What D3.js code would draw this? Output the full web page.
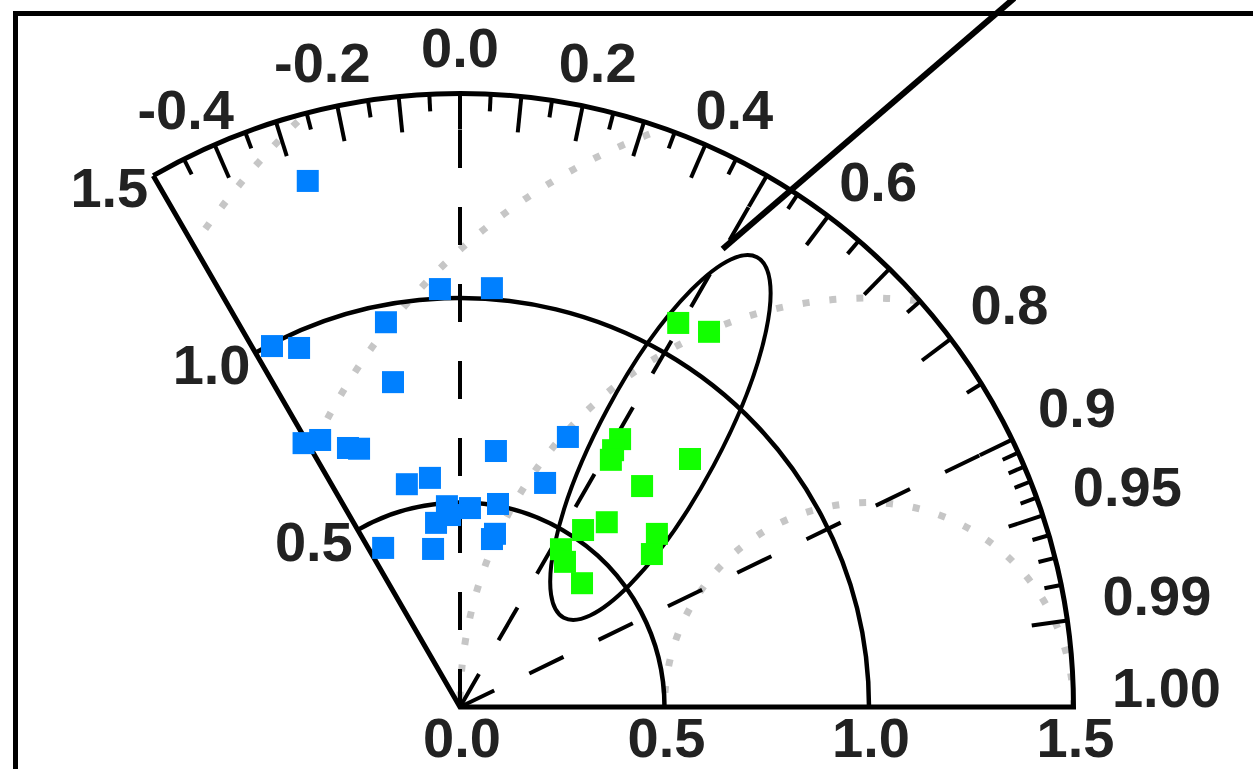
<!DOCTYPE html>
<html>
<head>
<meta charset="utf-8">
<script src="https://cdn.jsdelivr.net/npm/d3@7/dist/d3.min.js"></script>
<style>
    html, body { margin: 0; padding: 0; background: #fff; }
    svg { display: block; }
</style>
</head>
<body>
<div id="chart"></div>
<script>
// Model statistics: normalised standard deviation and correlation
const blueStd  = [1.339, 1.023, 1.027, 0.958, 0.995, 0.962, 0.811, 0.750, 0.737, 0.690, 0.678, 0.632, 0.711,
                  0.560, 0.565, 0.586, 0.492, 0.487, 0.505, 0.454, 0.470, 0.432, 0.418, 0.432, 0.392];
const blueCorr = [-0.278, -0.048, 0.076, -0.189, -0.462, -0.409, -0.202, -0.510, -0.464, -0.397, -0.364, 0.139, 0.371,
                  -0.232, -0.130, 0.355, -0.065, 0.050, 0.184, -0.129, -0.052, 0.198, 0.187, -0.435, -0.168];
const greenStd  = [1.080, 1.101, 0.763, 0.731, 0.708, 0.827, 0.700, 0.577, 0.527, 0.641, 0.600, 0.458, 0.438, 0.425];
const greenCorr = [0.494, 0.553, 0.513, 0.512, 0.521, 0.680, 0.636, 0.622, 0.571, 0.751, 0.782, 0.539, 0.586, 0.702];

// Axes
const stdArcs = [0.5, 1.0];
const stdMax = 1.5;
const corrMin = -0.5;
const stdLabels = ['0.0', '0.5', '1.0', '1.5'];
const leftStdLabels = ['0.5', '1.0', '1.5'];
const corrLabels = ['-0.4', '-0.2', '0.0', '0.2', '0.4', '0.6', '0.8', '0.9', '0.95', '0.99', '1.00'];
const corrMajorTicks = [-0.4, -0.3, -0.2, -0.1, 0.0, 0.1, 0.2, 0.3, 0.4, 0.5, 0.6, 0.7, 0.8, 0.9, 0.95, 0.99];
const corrMinorTicks = [-0.45, -0.35, -0.25, -0.15, -0.05, 0.05, 0.15, 0.25, 0.35, 0.45, 0.55, 0.65, 0.75, 0.85,
                        0.91, 0.92, 0.93, 0.94, 0.96, 0.97, 0.98];
const dashedCorr = [0.0, 0.5, 0.9];

// Centred RMS difference contours around the reference
const refStd = 1.0;
const rmsLevels = [0.5, 1.0, 1.5, 2.0];

// Spread ellipse of the green group and the pointer line (std units)
const ellipseCenter = [0.490, 0.659];
const ellipseAxes = [0.50, 0.147];
const ellipseAngle = 61.8;
const pointerLine = [[0.642, 1.120], [1.355, 1.733]];

const width = 1253;
const height = 769;
const font = '"Liberation Sans", Arial, Helvetica, sans-serif';

const svg = d3.select('#chart')
    .append('svg')
    .attr('width', width)
    .attr('height', height)
    .style('background', '#fff');

const x = d3.scaleLinear().domain([0, stdMax]).range([460, 1073.5]);
const y = d3.scaleLinear().domain([0, stdMax]).range([707, 93.5]);
const px = r => x(r) - x(0);

// point at given std and correlation
function polar(r, c) {
    return [x(r * c), y(r * Math.sqrt(1 - c * c))];
}

const thetaMax = Math.acos(corrMin);

function arcPath(r) {
    const p = d3.path();
    p.arc(x(0), y(0), px(r), 0, -thetaMax, true);
    return p.toString();
}

// Frame
svg.append('line')
    .attr('x1', 13).attr('x2', width).attr('y1', 13.5).attr('y2', 13.5)
    .attr('stroke', '#000').attr('stroke-width', 5);
svg.append('line')
    .attr('x1', 15.5).attr('x2', 15.5).attr('y1', 11).attr('y2', height)
    .attr('stroke', '#000').attr('stroke-width', 5);

// Clip for contours
const wedge = d3.path();
wedge.moveTo(x(0), y(0));
wedge.arc(x(0), y(0), px(stdMax), 0, -thetaMax, true);
wedge.closePath();
svg.append('clipPath').attr('id', 'wedge')
    .append('path').attr('d', wedge.toString());

// RMS contours
svg.append('g')
    .attr('clip-path', 'url(#wedge)')
    .selectAll('path')
    .data(rmsLevels)
    .enter()
    .append('path')
    .attr('d', d => {
        const p = d3.path();
        p.arc(x(refStd), y(0), px(d), 0, -Math.PI, true);
        return p.toString();
    })
    .attr('fill', 'none')
    .attr('stroke', '#c6c6c6')
    .attr('stroke-width', 7)
    .attr('stroke-dasharray', '7,20');

// Std arcs
svg.append('g')
    .selectAll('path')
    .data(stdArcs)
    .enter()
    .append('path')
    .attr('d', d => arcPath(d))
    .attr('fill', 'none')
    .attr('stroke', '#000')
    .attr('stroke-width', 4.5);

// Dashed correlation rays
svg.append('g')
    .selectAll('line')
    .data(dashedCorr)
    .enter()
    .append('line')
    .attr('x1', x(0)).attr('y1', y(0))
    .attr('x2', d => polar(stdMax, d)[0])
    .attr('y2', d => polar(stdMax, d)[1])
    .attr('stroke', '#000')
    .attr('stroke-width', 4)
    .attr('stroke-dasharray', '38,39');

// Ticks on outer arc
function drawTicks(values, len) {
    svg.append('g')
        .selectAll('line')
        .data(values)
        .enter()
        .append('line')
        .attr('x1', d => polar(stdMax, d)[0])
        .attr('y1', d => polar(stdMax, d)[1])
        .attr('x2', d => polar(stdMax - len, d)[0])
        .attr('y2', d => polar(stdMax - len, d)[1])
        .attr('stroke', '#000')
        .attr('stroke-width', 4);
}
drawTicks(corrMajorTicks, 0.088);
drawTicks(corrMinorTicks, 0.042);

// Outline: left edge, outer arc, std axis
const outline = d3.path();
const corner = polar(stdMax, corrMin);
outline.moveTo(corner[0], corner[1]);
outline.lineTo(x(0), y(0));
outline.lineTo(x(stdMax), y(0));
outline.arc(x(0), y(0), px(stdMax), 0, -thetaMax, true);
svg.append('path')
    .attr('d', outline.toString())
    .attr('fill', 'none')
    .attr('stroke', '#000')
    .attr('stroke-width', 5)
    .attr('stroke-linejoin', 'miter');

// Ellipse
svg.append('ellipse')
    .attr('transform', `translate(${x(ellipseCenter[0])},${y(ellipseCenter[1])}) rotate(${-ellipseAngle})`)
    .attr('rx', px(ellipseAxes[0]))
    .attr('ry', px(ellipseAxes[1]))
    .attr('fill', 'none')
    .attr('stroke', '#000')
    .attr('stroke-width', 4);

// Pointer line
svg.append('line')
    .attr('x1', x(pointerLine[0][0])).attr('y1', y(pointerLine[0][1]))
    .attr('x2', x(pointerLine[1][0])).attr('y2', y(pointerLine[1][1]))
    .attr('stroke', '#000')
    .attr('stroke-width', 6);

// Markers
function drawPoints(stds, corrs, color) {
    const size = 22;
    svg.append('g')
        .selectAll('rect')
        .data(stds.map((s, i) => [s, corrs[i]]))
        .enter()
        .append('rect')
        .attr('x', d => polar(d[0], d[1])[0] - size / 2)
        .attr('y', d => polar(d[0], d[1])[1] - size / 2)
        .attr('width', size)
        .attr('height', size)
        .attr('fill', color);
}
drawPoints(blueStd, blueCorr, '#0080ff');
drawPoints(greenStd, greenCorr, '#12ff00');

// Labels
const labels = svg.append('g')
    .style('font-family', font)
    .style('font-weight', 'bold')
    .style('font-size', '56px')
    .style('fill', '#222');

// std labels along x axis
labels.selectAll('text.std')
    .data(stdLabels)
    .enter()
    .append('text')
    .attr('class', 'std')
    .attr('x', d => x(+d) + 2)
    .attr('y', y(0) + 50)
    .attr('text-anchor', 'middle')
    .text(d => d);

// std labels along left edge
labels.selectAll('text.stdl')
    .data(leftStdLabels)
    .enter()
    .append('text')
    .attr('class', 'stdl')
    .attr('x', d => polar(+d, corrMin)[0] - 5)
    .attr('y', d => polar(+d, corrMin)[1] + 31)
    .attr('text-anchor', 'end')
    .text(d => d);

// correlation labels
labels.selectAll('text.corr')
    .data(corrLabels)
    .enter()
    .append('text')
    .attr('class', 'corr')
    .each(function (d) {
        const c = +d;
        const el = d3.select(this);
        if (c < 0.5) {
            const th = Math.PI / 2 + (Math.acos(c) - Math.PI / 2) * 1.08;
            const r = 1.56;
            el.attr('x', x(r * Math.cos(th)))
                .attr('y', y(r * Math.sin(th)) - 2)
                .attr('text-anchor', 'middle');
        } else {
            const deg = Math.acos(c) * 180 / Math.PI;
            const p = polar(1.594 - 0.00092 * deg, c);
            el.attr('x', p[0])
                .attr('y', p[1])
                .attr('text-anchor', 'start');
        }
    })
    .text(d => d);
</script>
</body>
</html>
